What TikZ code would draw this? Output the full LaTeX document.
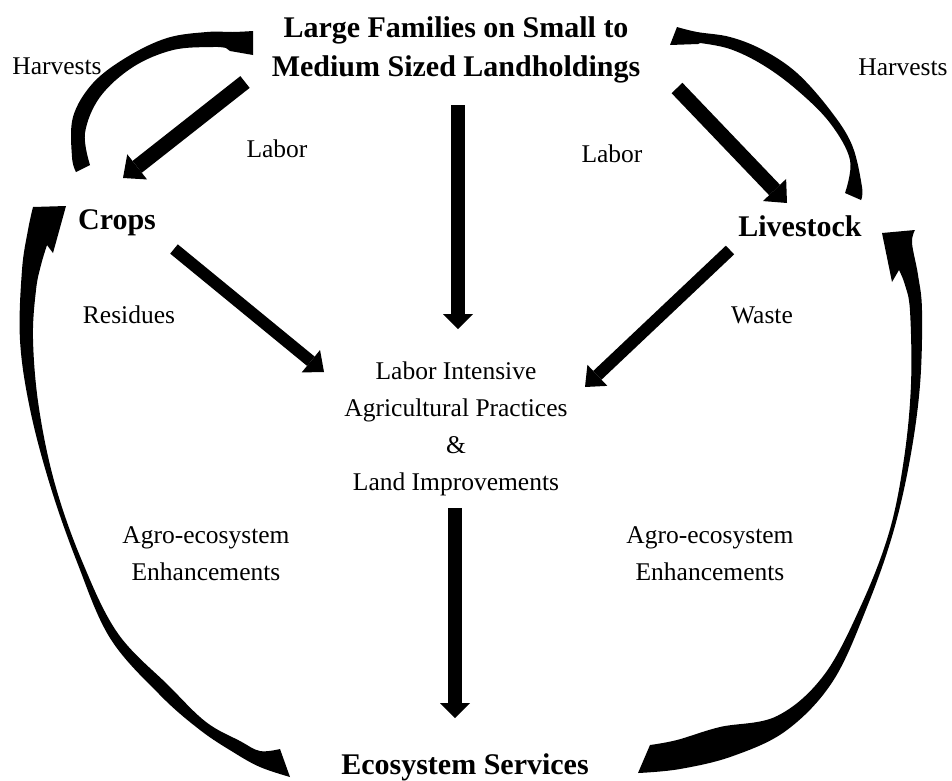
\documentclass[tikz,border=0pt]{standalone}
\usepackage{fontspec}
\setmainfont{Liberation Serif}
\usetikzlibrary{arrows.meta}
\begin{document}
\begin{tikzpicture}[x=1pt,y=-1pt,
  lbl/.style={font=\fontsize{25.5}{37}\selectfont, align=center, inner sep=0pt, anchor=base},
  boldlbl/.style={font=\fontsize{30}{39}\selectfont\bfseries, align=center, inner sep=0pt, anchor=base},
  fatarrow/.style={line width=15pt, -{Triangle[length=18pt,width=32pt,line width=0pt]}},
  midarrow/.style={line width=12pt, -{Triangle[length=17pt,width=29pt,line width=0pt]}},
  vertarrow/.style={line width=14pt, -{Triangle[length=15pt,width=30pt,line width=0pt]}},
  band/.style={fill=black}]
\useasboundingbox (0,0) rectangle (952,780);

% texts (multi-line nodes: base = baseline of last line)
\node[boldlbl] (fam) at (456,76) {Large Families on Small to\\Medium Sized Landholdings};
\node[boldlbl] (crops) at (117,229) {Crops};
\node[boldlbl] (live) at (800,236) {Livestock};
\node[boldlbl] (eco) at (465,774) {Ecosystem Services};
\node[lbl] (harvL) at (57,74) {Harvests};
\node[lbl] (harvR) at (903,75) {Harvests};
\node[lbl] (laborL) at (277,157) {Labor};
\node[lbl] (laborR) at (612,162) {Labor};
\node[lbl] (resid) at (129,323) {Residues};
\node[lbl] (waste) at (762,323) {Waste};
\node[lbl] (center) at (456,490) {Labor Intensive\\Agricultural Practices\\\&\\Land Improvements};
\node[lbl] (agroL) at (206,580) {Agro-ecosystem\\Enhancements};
\node[lbl] (agroR) at (710,580) {Agro-ecosystem\\Enhancements};

% arrow end points
\coordinate (a1s) at (245,82);  \coordinate (a1e) at (123,178);
\coordinate (a2s) at (677,88);  \coordinate (a2e) at (787,203);
\coordinate (a3s) at (458,105); \coordinate (a3e) at (458,329);
\coordinate (a4s) at (174,249); \coordinate (a4e) at (324,372);
\coordinate (a5s) at (730,250); \coordinate (a5e) at (585,387);
\coordinate (a6s) at (455,508); \coordinate (a6e) at (455,718);

\draw[fatarrow] (a1s) -- (a1e);
\draw[fatarrow] (a2s) -- (a2e);
\draw[vertarrow] (a3s) -- (a3e);
\draw[midarrow] (a4s) -- (a4e);
\draw[midarrow] (a5s) -- (a5e);
\draw[vertarrow] (a6s) -- (a6e);

% big left arc: Ecosystem Services -> Crops
\fill[band] plot[smooth,tension=0.6] coordinates {(33,207) (28,230) (22,270) (20,340) (30,409) (50,485) (77,562) (110,638) (160,695) (200,730) (233,752) (260,767) (290,777)}
  -- plot[smooth,tension=0.6] coordinates {(280,749) (260,751) (240,741) (206,722) (169,686) (117.6,633) (81.6,560) (54.8,483.5) (38.8,407) (33,339) (36,290) (41,265) (47,245)}
  -- (53,253) -- (66,206) -- cycle;

% big right arc: Ecosystem Services -> Livestock
\fill[band] plot[smooth,tension=0.6] coordinates {(915,230) (912,243) (918,275) (922,311) (920,385) (910,459) (893,533) (867,607) (833,681) (787,730) (733,756) (680,769) (638,773)}
  -- plot[smooth,tension=0.6] coordinates {(650,745) (677,740) (720,727) (777,716) (824,675) (861.4,604.7) (889.2,531.9) (904.1,458) (911,384) (910,311) (905,285) (899,270)}
  -- (892,282) -- (882,233) -- cycle;

% left harvest: Crops -> Families
\fill[band] plot[smooth,tension=0.6] coordinates {(76,172) (72,157) (73,117) (93,83) (127,57) (167,38) (207,32) (233,32) (253,31)}
  -- (253,55) -- (230,51)
  -- plot[smooth,tension=0.6] coordinates {(226,48) (213,47) (173,50) (133,67) (100,97) (85,133) (90,165)}
  -- cycle;

% right harvest: Livestock -> Families
\fill[band] plot[smooth,tension=0.6] coordinates {(677,27) (697,32) (730,37) (763,50) (797,73) (830,110) (852,145) (862,187) (861,200)}
  -- plot[smooth,tension=0.6] coordinates {(845,193) (850,160) (830,123) (797,90) (763,65) (730,49) (700,43)}
  -- (698,44) -- (670,45) -- cycle;
\end{tikzpicture}
\end{document}
